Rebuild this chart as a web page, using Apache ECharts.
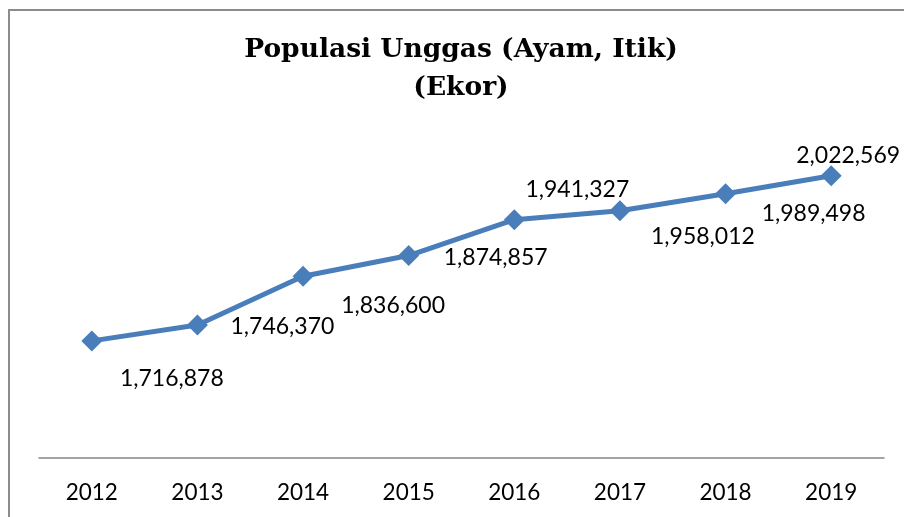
<!DOCTYPE html>
<html>
<head>
<meta charset="utf-8">
<script src="https://cdn.jsdelivr.net/npm/echarts@6/dist/echarts.min.js"></script>
<style>html,body{margin:0;padding:0;background:#fff;}#c{width:904px;height:517px;}</style>
</head>
<body>
<div id="c"></div>
<script>
var categories = ['2012', '2013', '2014', '2015', '2016', '2017', '2018', '2019'];
var populasi = [1716878, 1746370, 1836600, 1874857, 1941327, 1958012, 1989498, 2022569];
var titleLines = ['Populasi Unggas (Ayam, Itik)', '(Ekor)'];

// label placement (layout only)
var labelOffsets = [[80, 38], [85, 2], [90, 29], [87, 2], [63, -30], [83, 26], [88, 20], [17, -20]];

function fmt(v) { return v.toString().replace(/\B(?=(\d{3})+(?!\d))/g, ','); }

var chart = echarts.init(document.getElementById('c'), null, {renderer: 'canvas'});
var seriesData = populasi.map(function (v, i) {
  return {
    value: v,
    label: { offset: labelOffsets[i] }
  };
});
chart.setOption({
  animation: false,
  backgroundColor: '#ffffff',
  graphic: [
    { type: 'rect', shape: { x: 9, y: 10, width: 1000, height: 600 }, style: { fill: 'none', stroke: '#8c8c8c', lineWidth: 2 }, silent: true },
    { type: 'text', x: 461, y: 50, style: { text: titleLines[0], font: 'bold 26.5px "DejaVu Serif"', fill: '#000', align: 'center', verticalAlign: 'middle' } },
    { type: 'text', x: 461, y: 88, style: { text: titleLines[1], font: 'bold 26.5px "DejaVu Serif"', fill: '#000', align: 'center', verticalAlign: 'middle' } }
  ],
  grid: { left: 39, right: 20, top: 134, bottom: 59, containLabel: false },
  xAxis: {
    type: 'category',
    data: categories,
    boundaryGap: true,
    axisLine: { lineStyle: { color: '#878787', width: 1.5 } },
    axisTick: { show: false },
    axisLabel: { color: '#000', fontFamily: 'Lato', fontSize: 22.5, margin: 23 }
  },
  yAxis: {
    type: 'value',
    min: 1500000,
    max: 2100000,
    show: false,
    splitLine: { show: false }
  },
  series: [{
    type: 'line',
    data: seriesData,
    symbol: 'diamond',
    symbolSize: 21,
    lineStyle: { color: '#4a7ebb', width: 5 },
    itemStyle: { color: '#4a7ebb' },
    label: {
      show: true,
      position: 'inside',
      align: 'center',
      verticalAlign: 'middle',
      color: '#000',
      fontFamily: 'Lato',
      fontSize: 23,
      formatter: function (p) { return fmt(p.value); }
    }
  }]
});
</script>
</body>
</html>
